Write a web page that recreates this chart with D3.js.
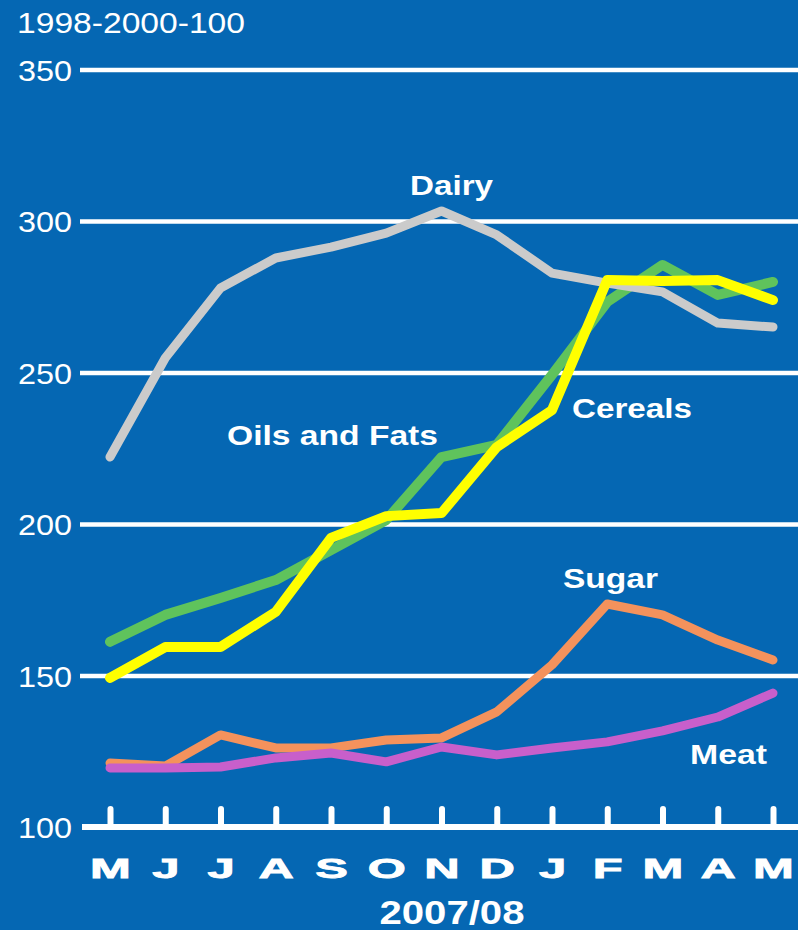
<!DOCTYPE html>
<html>
<head>
<meta charset="utf-8">
<script src="https://cdn.jsdelivr.net/npm/d3@7"></script>
<style>
  html, body { margin: 0; padding: 0; background: #0567B3; }
  svg { display: block; }
  text { font-family: "Liberation Sans", Arial, sans-serif; fill: #fff; }
</style>
</head>
<body>
<svg id="chart" width="798" height="930"></svg>
<script>
// FAO food price sub-indices, monthly, May 2007 – May 2008 (1998-2000 = 100)
const months = ["M", "J", "J", "A", "S", "O", "N", "D", "J", "F", "M", "A", "M"];
const yTicks = [100, 150, 200, 250, 300, 350];

const dairy   = [222.1, 254.8, 277.9, 287.8, 291.4, 296.0, 303.3, 295.4, 282.8, 279.5, 276.6, 266.3, 265.0];
const oils    = [161.1, 170.0, 175.6, 181.5, 191.4, 201.3, 222.1, 226.1, 249.2, 273.3, 285.5, 275.6, 279.9];
const cereals = [149.2, 159.4, 159.4, 171.0, 195.4, 202.6, 203.6, 225.4, 237.6, 280.5, 280.2, 280.5, 273.9];
const sugar   = [121.1, 120.1, 130.4, 126.1, 126.1, 128.7, 129.4, 138.0, 153.5, 173.6, 170.0, 161.7, 155.1];
const meat    = [119.5, 119.5, 119.8, 122.8, 124.4, 121.5, 126.4, 123.8, 126.1, 128.1, 131.7, 136.3, 144.2];

const series = [
  { name: "Oils and Fats", values: oils,    color: "#5FC35C", width: 10 },
  { name: "Dairy",         values: dairy,   color: "#CBCBCB", width: 9 },
  { name: "Cereals",       values: cereals, color: "#FFFF00", width: 10 },
  { name: "Sugar",         values: sugar,   color: "#F4925C", width: 9 },
  { name: "Meat",          values: meat,    color: "#C85FCB", width: 9 }
];

const svg = d3.select("#chart");
const W = 798;

const x = d3.scalePoint().domain(d3.range(months.length)).range([110, 773]);
const y = d3.scaleLinear().domain([100, 350]).range([827, 69.5]);

// stretched text helper: anchor x, baseline y, target width
function label(txt, x0, base, width, size, weight, anchor) {
  return svg.append("text")
    .attr("x", x0).attr("y", base)
    .attr("text-anchor", anchor || "start")
    .attr("font-size", size)
    .attr("font-weight", weight || "normal")
    .attr("textLength", width)
    .attr("lengthAdjust", "spacingAndGlyphs")
    .text(txt);
}

// unit caption
label("1998-2000-100", 17, 33, 228, 29, "normal");

// horizontal gridlines with value labels
const yAxis = svg.append("g")
  .attr("transform", "translate(80,0)")
  .call(d3.axisLeft(y).tickValues(yTicks.filter(v => v > 100)).tickSize(-(W - 80)).tickFormat(d3.format("d")));
yAxis.select(".domain").remove();
yAxis.selectAll(".tick line").attr("stroke", "#fff").attr("stroke-width", 4.5);
yAxis.selectAll(".tick text")
  .attr("x", -8).attr("dy", "0.36em")
  .attr("font-size", 30).attr("fill", "#fff")
  .attr("font-family", "Liberation Sans, Arial, sans-serif")
  .attr("textLength", 54).attr("lengthAdjust", "spacingAndGlyphs");

// base value label (100)
label(String(yTicks[0]), 72, y(yTicks[0]) + 11, 54, 30, "normal", "end");

// x axis: baseline with upward ticks and month letters
const xAxis = svg.append("g")
  .attr("transform", `translate(0,${y(100)})`)
  .call(d3.axisBottom(x).tickSize(-18).tickPadding(31).tickFormat(i => months[i]));
xAxis.select(".domain").remove();
xAxis.insert("line", ":first-child")
  .attr("x1", 82).attr("x2", W).attr("y1", 0).attr("y2", 0)
  .attr("stroke", "#fff").attr("stroke-width", 6);
xAxis.selectAll(".tick line")
  .attr("stroke", "#fff").attr("stroke-width", 6).attr("stroke-linecap", "round");
xAxis.selectAll(".tick text")
  .attr("fill", "#fff").attr("font-size", 28).attr("font-weight", "bold")
  .attr("font-family", "Liberation Sans, Arial, sans-serif")
  .attr("stroke", "#fff").attr("stroke-width", 0.8)
  .attr("transform", "scale(1.75,1)");

label("2007/08", 452, 924, 145, 33, "bold", "middle");

// series lines
const line = d3.line().x((d, i) => x(i)).y(d => y(d));
svg.append("g").selectAll("path")
  .data(series)
  .join("path")
  .attr("d", d => line(d.values))
  .attr("fill", "none")
  .attr("stroke", d => d.color)
  .attr("stroke-width", d => d.width)
  .attr("stroke-linejoin", "round")
  .attr("stroke-linecap", "round");

// series names
label("Dairy", 410, 195, 83, 28, "bold");
label("Oils and Fats", 227, 445, 211, 28, "bold");
label("Cereals", 572, 418, 120, 28, "bold");
label("Sugar", 563, 588, 95, 28, "bold");
label("Meat", 690, 764, 77, 28, "bold");
</script>
</body>
</html>
